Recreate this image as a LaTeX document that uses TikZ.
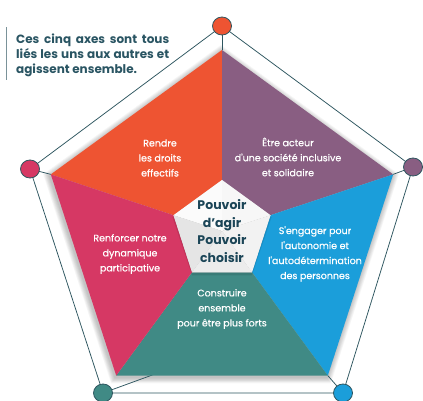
\documentclass[tikz,border=0pt]{standalone}
\usepackage{fontspec}
\setmainfont{Poppins}
\newfontfamily\axefont[FakeBold=0.6]{Poppins}
\usetikzlibrary{calc,shapes.geometric}

\definecolor{axeOrange}{HTML}{EE5432}
\definecolor{axePurple}{HTML}{895E82}
\definecolor{axeBlue}{HTML}{1B9EDA}
\definecolor{axeTeal}{HTML}{408A85}
\definecolor{axeCrimson}{HTML}{D63864}
\definecolor{frameLine}{HTML}{2D555F}
\definecolor{titleInk}{HTML}{2A5563}
\definecolor{barInk}{HTML}{7A9299}
\definecolor{hubInk}{HTML}{1B4557}

\tikzset{
  frame/.style={draw=frameLine, line width=0.75pt},
  vertexdot/.style={ellipse, draw=frameLine, line width=0.8pt,
    minimum width=19pt, minimum height=18pt, inner sep=0pt},
  axetext/.style={text=white, align=center, inner sep=0pt,
    font=\axefont\fontsize{9.5}{15}\selectfont},
  hubtext/.style={text=hubInk, align=center, inner sep=0pt,
    font=\fontsize{12.5}{17.5}\selectfont\bfseries},
  titletext/.style={text=titleInk, text width=153pt, align=justify,
    inner sep=0pt, font=\fontsize{12}{15}\selectfont\bfseries},
}

\begin{document}
\begin{tikzpicture}[x=1pt, y=-1pt]
  \useasboundingbox[fill=white] (0,0) rectangle (423,401);

  % centres of the coloured pentagon and of the hub
  \coordinate (O) at (222,230);
  \coordinate (C) at (222,231);
  \foreach \i/\a in {1/-90,2/-18,3/54,4/126,5/198} {
    \coordinate (A\i) at ($(O)+(\a:180)$);
    \coordinate (B\i) at ($(C)+(\a:51)$);
  }

  % outer ring of dots
  \coordinate (ct) at (222,26);
  \coordinate (cr) at (413,167);
  \coordinate (cl) at (30,169);
  \coordinate (cbl) at (103,393);
  \coordinate (cbr) at (343,393);
  \coordinate (sbl) at (155,374);

  % soft shadow under the coloured pentagon
  \foreach \r in {1,...,7} {
    \fill[black, opacity=0.035]
      ($(A1)+(-1,2)+(-90:\r)$) -- ($(A2)+(-1,2)+(-18:\r)$) --
      ($(A3)+(-1,2)+(54:\r)$) -- ($(A4)+(-1,2)+(126:\r)$) --
      ($(A5)+(-1,2)+(198:\r)$) -- cycle;
  }

  % frame and spokes
  \draw[frame] (ct) -- (cl) -- (cbl) -- (cbr) -- (cr) -- cycle;
  \draw[frame] (ct) -- (A1);
  \draw[frame] (cr) -- (A2);
  \draw[frame] (cl) -- (A5);
  \draw[frame] (cbl) -- (sbl);
  \draw[frame] (cbr) -- (A3);

  % the five axes
  \fill[axeOrange]  (A1) -- (A5) -- (B5) -- (B1) -- cycle;
  \fill[axePurple]  (A1) -- (A2) -- (B2) -- (B1) -- cycle;
  \fill[axeBlue]    (A2) -- (A3) -- (B3) -- (B2) -- cycle;
  \fill[axeTeal]    (A3) -- (A4) -- (B4) -- (B3) -- cycle;
  \fill[axeCrimson] (A4) -- (A5) -- (B5) -- (B4) -- cycle;

  % the hub, shaded as a low pyramid
  \fill[black, opacity=0.1] ($(B1)+(0,2)$) -- ($(B2)+(1,2)$) -- ($(B3)+(0,3)$) --
    ($(B4)+(0,3)$) -- ($(B5)+(-1,2)$) -- cycle;
  \fill[white!97!gray]  (C) -- (B5) -- (B1) -- cycle;
  \fill[white!94!gray]  (C) -- (B1) -- (B2) -- cycle;
  \fill[white!90!gray]  (C) -- (B2) -- (B3) -- cycle;
  \fill[white!85!gray]  (C) -- (B3) -- (B4) -- cycle;
  \fill[white!80!gray]  (C) -- (B4) -- (B5) -- cycle;

  % dots
  \node[vertexdot, fill=axeOrange]  (dt)  at (ct)  {};
  \node[vertexdot, fill=axePurple]  (dr)  at (cr)  {};
  \node[vertexdot, fill=axeCrimson] (dl)  at (cl)  {};
  \node[vertexdot, fill=axeTeal]    (dbl) at (cbl) {};
  \node[vertexdot, fill=axeBlue]    (dbr) at (cbr) {};

  % labels
  \node[axetext] (tOrange)  at (160,158) {Rendre\\les droits\\effectifs};
  \node[axetext] (tPurple)  at (288,157) {Être acteur\\d'une société inclusive\\et solidaire};
  \node[axetext] (tBlue)    at (315,254) {S'engager pour\\l'autonomie et\\l'autodétermination\\des personnes};
  \node[axetext] (tCrimson) at (130,254) {Renforcer notre\\dynamique\\participative};
  \node[axetext] (tTeal)    at (222,309) {Construire\\ensemble\\pour être plus forts};
  \node[hubtext] (tHub)     at (222,231) {Pouvoir\\d'agir\\Pouvoir\\choisir};

  % side note
  \fill[barInk] (5.5,27) rectangle (7,80);
  \node[titletext, anchor=west] (note) at (16,55)
    {Ces cinq axes sont tous\linebreak liés les uns aux autres et\linebreak agissent ensemble.};
\end{tikzpicture}
\end{document}
